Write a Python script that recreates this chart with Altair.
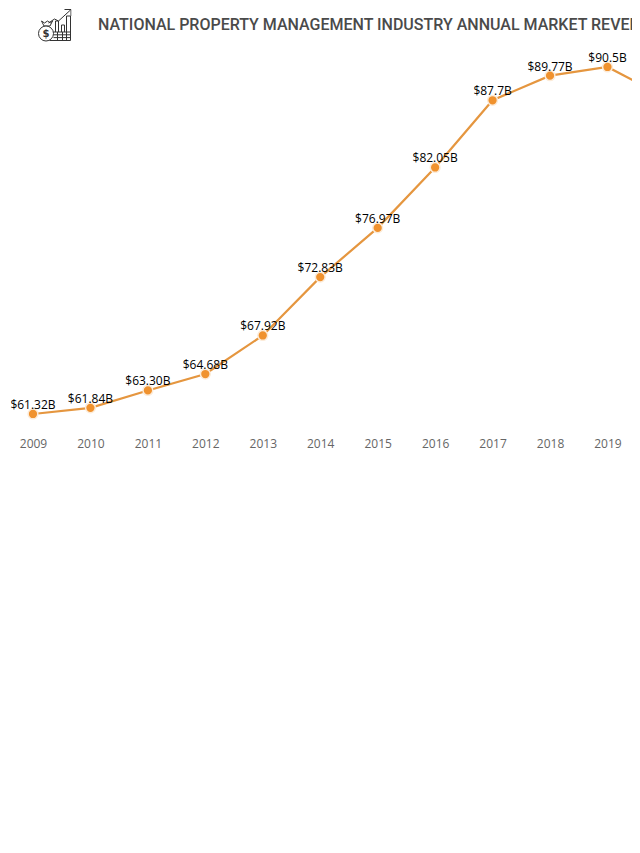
import urllib.parse
import altair as alt
import pandas as pd

years = list(range(2009, 2021))
revenue = [61.32, 61.84, 63.30, 64.68, 67.92, 72.83, 76.97, 82.05, 87.7, 89.77, 90.5, 88.0]
labels = ["$61.32B", "$61.84B", "$63.30B", "$64.68B", "$67.92B", "$72.83B", "$76.97B",
          "$82.05B", "$87.7B", "$89.77B", "$90.5B", "$88B"]
title_text = "NATIONAL PROPERTY MANAGEMENT INDUSTRY ANNUAL MARKET REVENUE"

df = pd.DataFrame({"year": years, "revenue": revenue, "label": labels})

x_scale = alt.Scale(domain=[2008.565, 2019.427], nice=False, zero=False)
y_scale = alt.Scale(domain=[59.30, 95.46], nice=False, zero=False)
x = alt.X("year:Q", scale=x_scale, axis=alt.Axis(
    values=years[:-1], format="d", title=None, grid=False, domain=False, ticks=False, tickSize=0,
    labelPadding=0, labelFont="Open Sans", labelFontSize=12, labelColor="#666666",
    labelFlush=False, labelOverlap=False))
y = alt.Y("revenue:Q", scale=y_scale, axis=None)

line = alt.Chart(df).mark_line(color="#E5963F", strokeWidth=2.2, clip=True).encode(x=x, y=y)
points = alt.Chart(df).mark_circle(size=95, color="#F0922E", opacity=1, stroke="#FCEBD8",
                                   strokeWidth=1.5, clip=True).encode(x=x, y=y)
text = alt.Chart(df).mark_text(font="Open Sans", fontSize=12, color="#000000", dy=-9,
                               baseline="middle", align="center", clip=True).encode(x=x, y=y, text="label:N")

icon_svg = """<svg xmlns='http://www.w3.org/2000/svg' viewBox='0 0 34 34' fill='none' stroke='#333' stroke-width='1'>
<path d='M11 15 L17 11 L21 13 L33 2 M27 1.5 H33.5 V8'/>
<path d='M18 24 V13 H21 V24 M24 24 V17 H27 V24 M29 24 V8 H33 V24'/>
<path d='M4 13 L7 15 L10 13 L13 15 L15 13 L12.5 18 H6.5 Z'/>
<circle cx='8.5' cy='25.5' r='7.5' fill='white'/>
<path d='M16 24 H33 V32.5 H12 M16 26.8 H33 M16 29.6 H33 M20 24 V32.5 M25 24 V32.5 M29 24 V32.5'/>
<text x='8.5' y='29' font-size='10' font-family='DejaVu Sans' font-weight='bold' text-anchor='middle' fill='#333' stroke='none'>$</text>
</svg>"""
icon_url = "data:image/svg+xml;charset=utf-8," + urllib.parse.quote(icon_svg)
icon = alt.Chart(pd.DataFrame({"url": [icon_url]})).mark_image(width=34, height=34).encode(
    x=alt.value(46.5), y=alt.value(17), url="url:N")

title = alt.Chart(pd.DataFrame({"t": [title_text]})).mark_text(
    font="Roboto", fontSize=16, fontWeight=500, color="#4A4A4A", align="left", baseline="middle"
).encode(x=alt.value(90), y=alt.value(17), text="t:N")

chart = alt.layer(line, points, text, icon, title).properties(
    width=624, height=430,
    background="white",
    autosize=alt.AutoSizeParams(type="none"),
    padding={"left": 0, "top": 0, "right": 0, "bottom": 30},
).configure_view(stroke=None)
chart.save("out.html", embed_options={"renderer": "svg", "actions": False})
